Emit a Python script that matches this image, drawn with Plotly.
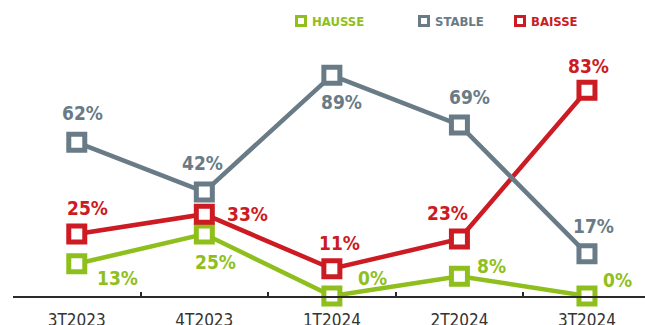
import plotly.graph_objects as go

# Quarterly shares of answers (in %)
quarters = ["3T2023", "4T2023", "1T2024", "2T2024", "3T2024"]
hausse = [13, 25, 0, 8, 0]
stable = [62, 42, 89, 69, 17]
baisse = [25, 33, 11, 23, 83]

GREEN = "#8fbf1c"
GREY = "#687b86"
RED = "#cc1b22"
FONT = "Liberation Sans Narrow, DejaVu Sans Condensed, Roboto, sans-serif"

# label offsets (pixels) for each point: (xshift, yshift)
offsets = {
    "hausse": [(41, -14), (11, -28), (41, 18), (32, 10), (31, 16)],
    "stable": [(6, 29), (-2, 29), (10, -27), (10, 28), (7, 28)],
    "baisse": [(11, 26), (43, 0), (8, 26), (-12, 26), (2, 24)],
}

series = [
    ("HAUSSE", "hausse", hausse, GREEN),
    ("BAISSE", "baisse", baisse, RED),
    ("STABLE", "stable", stable, GREY),
]

fig = go.Figure()
annotations = []
for name, key, vals, col in series:
    fig.add_trace(go.Scatter(
        x=quarters, y=vals, name=name, mode="lines+markers",
        line=dict(color=col, width=4.5),
        marker=dict(symbol="square", size=16, color="white",
                    line=dict(color=col, width=5)),
        cliponaxis=False, showlegend=False,
    ))
    for q, v, (dx, dy) in zip(quarters, vals, offsets[key]):
        annotations.append(dict(
            x=q, y=v, xref="x", yref="y", text=f"{v}%", showarrow=False,
            xshift=dx, yshift=dy,
            font=dict(family=FONT, size=19, color=col, weight="bold"),
        ))

# legend: open squares followed by coloured names
legend_items = [("HAUSSE", GREEN, 301), ("STABLE", GREY, 424), ("BAISSE", RED, 520)]
W, H = 645, 325
L, B = 13, 29
PW, PH = W - L, H - B
shapes = []
for label, col, px in legend_items:
    cx = (px - L) / PW
    cy = (PH - 21) / PH
    hw, hh = 4.5 / PW, 4.5 / PH
    shapes.append(dict(type="rect", xref="paper", yref="paper",
                       x0=cx - hw, x1=cx + hw, y0=cy - hh, y1=cy + hh,
                       line=dict(color=col, width=3), fillcolor="white"))
    annotations.append(dict(
        x=(px + 9 - L) / PW, y=cy, xref="paper", yref="paper",
        text=label, showarrow=False, xanchor="left", yanchor="middle",
        font=dict(family=FONT, size=13, color=col, weight="bold"),
    ))

fig.update_layout(
    width=W, height=H,
    margin=dict(l=L, r=0, t=0, b=B),
    paper_bgcolor="white", plot_bgcolor="white",
    annotations=annotations, shapes=shapes,
    xaxis=dict(
        type="category", range=[-0.5, 4.455], automargin=False,
        showgrid=False, zeroline=False,
        showline=True, linecolor="#2a2a2a", linewidth=2,
        ticks="inside", tickson="boundaries", ticklen=4, tickwidth=2,
        tickcolor="#2a2a2a",
        tickfont=dict(family=FONT, size=17, color="#333333"),
        ticklabelstandoff=8,
    ),
    yaxis=dict(range=[0, 119.4], visible=False, showgrid=False,
               zeroline=False, automargin=False),
)

fig.write_html("out.html")
